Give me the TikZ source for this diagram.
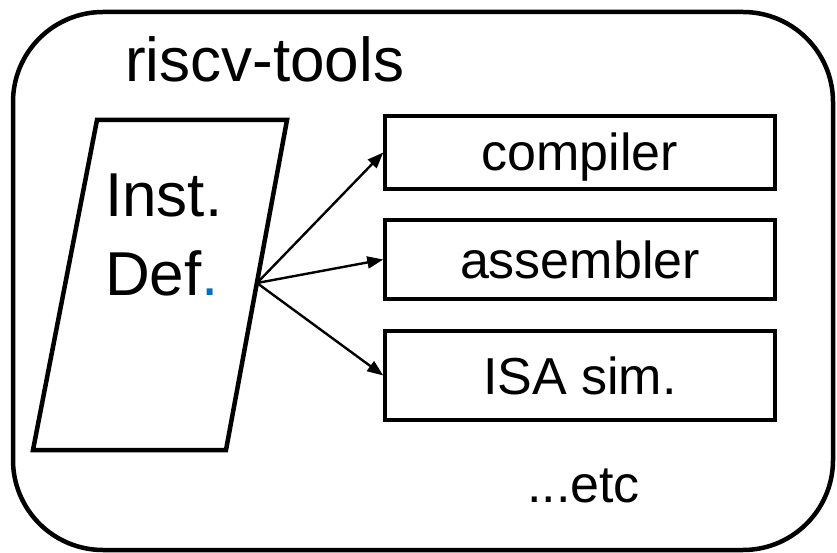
\documentclass[tikz,border=0pt]{standalone}
\usepackage{fontspec}
\setmainfont{Liberation Sans}
\usetikzlibrary{arrows.meta}
\definecolor{dotblue}{HTML}{0070C0}
\begin{document}
\begin{tikzpicture}[x=1pt,y=-1pt,
  outline/.style={draw=black,line width=4.5pt},
  toolbox/.style={draw=black,line width=3.5pt,minimum width=390pt,inner sep=0pt,
     text height=37pt,text depth=0pt,font=\fontsize{52}{60}\selectfont},
  bigtext/.style={inner sep=0pt,font=\fontsize{62}{72}\selectfont},
  midtext/.style={inner sep=0pt,font=\fontsize{52}{60}\selectfont},
  arr/.style={-{Triangle[length=16pt,width=12pt]},line width=2.4pt}]
\useasboundingbox (0,0) rectangle (837,553);
\draw[outline,rounded corners=90pt] (13,12) rectangle (833,550);
\node[bigtext,anchor=base west] (title) at (125,82) {riscv-tools};
\draw[outline,line join=miter] (97,120) -- (287,120) -- (226,450) -- (33,450) -- cycle;
\node[bigtext,anchor=base west] (inst) at (105,217) {Inst.};
\node[bigtext,anchor=base west] (def) at (105,295) {Def{\color{dotblue}.}};
\coordinate (src) at (257,283);
\node[toolbox,minimum height=73pt] (comp) at (580,152.5) {compiler};
\node[toolbox,minimum height=79pt] (asm) at (580,259.5) {assembler};
\node[toolbox,minimum height=89pt] (isa) at (580,375.5) {ISA sim.};
\node[midtext,anchor=base west] (etc) at (527,502) {...etc};
\draw[arr] (src) -- (comp.west);
\draw[arr] (src) -- (asm.west);
\draw[arr] (src) -- (isa.west);
\end{tikzpicture}
\end{document}
